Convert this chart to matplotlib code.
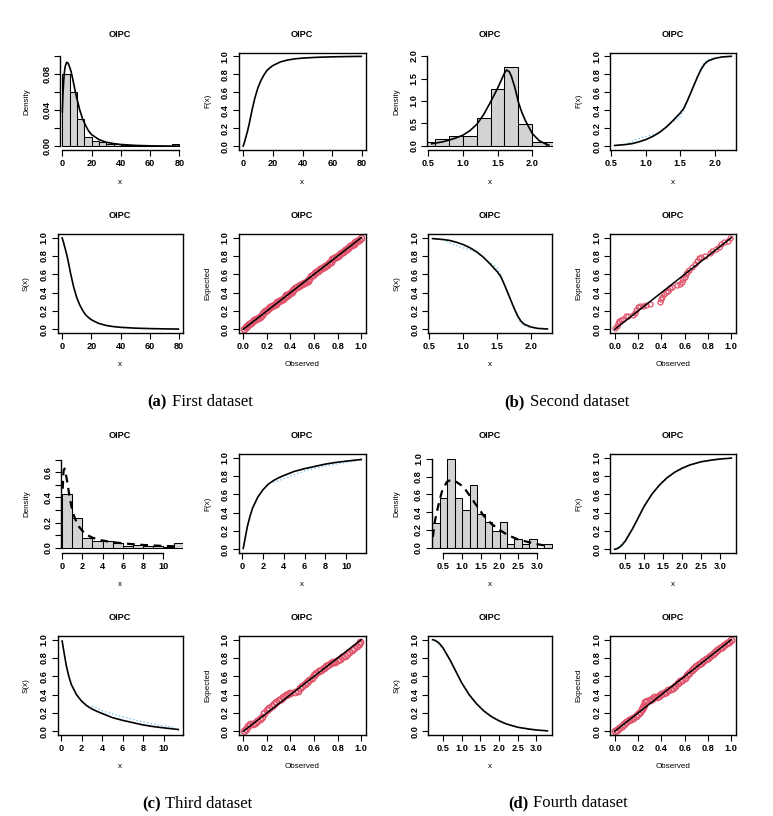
import matplotlib
matplotlib.use("Agg")
import matplotlib.pyplot as plt

# ======================= DATA =======================
# ---- Dataset 1 ----
h1_edges = [0, 5, 10, 15, 20, 25, 30, 35, 40, 45, 50, 55, 60, 65, 70, 75, 80]
h1_dens = [0.08, 0.06, 0.03, 0.0105, 0.006, 0.0045, 0.003, 0.002, 0.0015, 0.0015,
           0, 0, 0, 0, 0, 0.002]
d1_x = [0.1, 0.5, 1, 1.5, 2, 3, 4, 5, 6, 7, 8, 9, 10, 12, 14, 16, 18, 20, 25, 30,
        35, 40, 50, 60, 70, 79.5]
d1_pdf = [0.038, 0.058, 0.072, 0.082, 0.088, 0.093, 0.092, 0.088, 0.083, 0.076,
          0.068, 0.060, 0.053, 0.040, 0.030, 0.023, 0.017, 0.013, 0.0075, 0.0045,
          0.003, 0.002, 0.001, 0.0005, 0.0003, 0.0002]
c1_x = [0.1, 1, 2, 3, 4, 5, 6, 7, 8, 10, 12, 14, 16, 18, 20, 25, 30, 35, 40, 50,
        60, 70, 79.5]
c1_F = [0.003, 0.05, 0.11, 0.17, 0.24, 0.32, 0.40, 0.47, 0.54, 0.65, 0.73, 0.79,
        0.84, 0.87, 0.895, 0.935, 0.957, 0.97, 0.978, 0.987, 0.992, 0.995, 0.997]
c1_S = [0.997, 0.95, 0.89, 0.83, 0.76, 0.68, 0.60, 0.53, 0.46, 0.35, 0.27, 0.21,
        0.16, 0.13, 0.105, 0.065, 0.043, 0.03, 0.022, 0.013, 0.008, 0.005, 0.003]
pp1_obs = [0.005, 0.02, 0.035, 0.05, 0.065, 0.08, 0.095, 0.11, 0.125, 0.14,
           0.155, 0.17, 0.185, 0.2, 0.215, 0.23, 0.245, 0.26, 0.275, 0.29,
           0.305, 0.32, 0.335, 0.35, 0.365, 0.38, 0.395, 0.41, 0.425, 0.44,
           0.455, 0.47, 0.485, 0.5, 0.515, 0.53, 0.545, 0.56, 0.575, 0.59,
           0.605, 0.62, 0.635, 0.65, 0.665, 0.68, 0.695, 0.71, 0.725, 0.74,
           0.755, 0.77, 0.785, 0.8, 0.815, 0.83, 0.845, 0.86, 0.875, 0.89,
           0.905, 0.92, 0.935, 0.95, 0.965, 0.98, 0.995]
pp1_exp = [0.008, 0.022, 0.04, 0.055, 0.07, 0.087, 0.1, 0.112, 0.126, 0.14,
           0.158, 0.178, 0.198, 0.215, 0.23, 0.242, 0.253, 0.266, 0.28, 0.295,
           0.31, 0.322, 0.336, 0.355, 0.37, 0.38, 0.392, 0.407, 0.427, 0.45,
           0.464, 0.474, 0.484, 0.494, 0.502, 0.512, 0.527, 0.553, 0.582, 0.598,
           0.61, 0.624, 0.64, 0.655, 0.666, 0.676, 0.69, 0.705, 0.72, 0.74,
           0.764, 0.776, 0.787, 0.8, 0.815, 0.83, 0.845, 0.861, 0.876, 0.89,
           0.905, 0.92, 0.935, 0.95, 0.965, 0.98, 0.993]

# ---- Dataset 2 ----
h2_edges = [0.4, 0.6, 0.8, 1.0, 1.2, 1.4, 1.6, 1.8, 2.0, 2.2, 2.4]
h2_dens = [0.08, 0.15, 0.23, 0.23, 0.63, 1.27, 1.75, 0.48, 0.08, 0.08]
d2_x = [0.55, 0.7, 0.8, 0.9, 1.0, 1.1, 1.2, 1.3, 1.4, 1.5, 1.55, 1.6, 1.63, 1.67,
        1.7, 1.75, 1.8, 1.85, 1.9, 2.0, 2.1, 2.2, 2.24]
d2_pdf = [0.05, 0.09, 0.13, 0.18, 0.24, 0.34, 0.48, 0.7, 0.98, 1.28, 1.45, 1.62,
          1.69, 1.65, 1.55, 1.3, 0.98, 0.75, 0.57, 0.28, 0.12, 0.04, 0.02]
c2_x = [0.55, 0.7, 0.8, 0.9, 1.0, 1.1, 1.2, 1.3, 1.4, 1.5, 1.55, 1.6, 1.65, 1.7,
        1.75, 1.8, 1.85, 1.9, 2.0, 2.1, 2.24]
c2_F = [0.01, 0.02, 0.03, 0.05, 0.075, 0.11, 0.155, 0.215, 0.29, 0.37, 0.42, 0.5,
        0.59, 0.68, 0.77, 0.85, 0.91, 0.945, 0.975, 0.99, 0.998]
c2_S = [0.99, 0.98, 0.97, 0.95, 0.925, 0.89, 0.845, 0.785, 0.71, 0.63, 0.58, 0.5,
        0.41, 0.32, 0.23, 0.15, 0.09, 0.055, 0.025, 0.01, 0.004]
e2_x = [0.75, 0.85, 0.95, 1.05, 1.15, 1.25, 1.35, 1.45, 1.5, 1.55, 1.6, 1.65, 1.7,
        1.75, 1.8, 1.85, 1.9, 1.95, 2.0]
e2_F = [0.04, 0.07, 0.1, 0.12, 0.14, 0.19, 0.25, 0.3, 0.33, 0.4, 0.49, 0.58, 0.68,
        0.78, 0.87, 0.93, 0.96, 0.975, 0.985]
e2_S = [0.96, 0.93, 0.9, 0.88, 0.86, 0.81, 0.75, 0.7, 0.67, 0.6, 0.51, 0.42, 0.32,
        0.22, 0.13, 0.07, 0.04, 0.025, 0.015]
pp2_obs = [0.006, 0.017, 0.029, 0.04, 0.058, 0.075, 0.098, 0.115, 0.156, 0.173,
           0.184, 0.2, 0.213, 0.242, 0.271, 0.305, 0.386, 0.395, 0.406, 0.421,
           0.438, 0.458, 0.478, 0.49, 0.536, 0.559, 0.576, 0.588, 0.6, 0.611,
           0.622, 0.64, 0.663, 0.686, 0.703, 0.723, 0.741, 0.778, 0.818, 0.836,
           0.865, 0.893, 0.911, 0.939, 0.974, 0.991]
pp2_exp = [0.011, 0.04, 0.067, 0.086, 0.097, 0.116, 0.146, 0.149, 0.16, 0.183,
           0.21, 0.243, 0.254, 0.257, 0.265, 0.28, 0.302, 0.332, 0.358, 0.384,
           0.403, 0.422, 0.448, 0.463, 0.489, 0.496, 0.519, 0.545, 0.575, 0.6,
           0.63, 0.646, 0.683, 0.713, 0.743, 0.776, 0.787, 0.802, 0.836, 0.854,
           0.877, 0.899, 0.929, 0.948, 0.966, 0.993]

# ---- Dataset 3 ----
h3_edges = [0, 1, 2, 3, 4, 5, 6, 7, 8, 9, 10, 11, 12]
h3_dens = [0.427, 0.24, 0.08, 0.053, 0.05, 0.04, 0.016, 0.024, 0.011, 0.011,
           0.008, 0.037]
d3_x = [0.07, 0.15, 0.25, 0.35, 0.5, 0.7, 0.9, 1.1, 1.4, 1.7, 2.0, 2.5, 3.0, 3.5,
        4, 5, 6, 7, 8, 9, 10, 11.45]
d3_pdf = [0.47, 0.61, 0.63, 0.60, 0.53, 0.43, 0.34, 0.27, 0.21, 0.165, 0.135,
          0.10, 0.08, 0.067, 0.057, 0.044, 0.035, 0.028, 0.022, 0.018, 0.014, 0.011]
c3_x = [0.1, 0.3, 0.5, 0.75, 1.0, 1.5, 2.0, 2.5, 3.0, 3.5, 4, 5, 6, 7, 8, 9, 10,
        11.45]
c3_F = [0.01, 0.13, 0.25, 0.36, 0.45, 0.57, 0.65, 0.71, 0.75, 0.78, 0.805, 0.85,
        0.88, 0.905, 0.93, 0.948, 0.962, 0.98]
c3_S = [0.985, 0.85, 0.72, 0.6, 0.51, 0.4, 0.33, 0.28, 0.245, 0.218, 0.195, 0.15,
        0.12, 0.095, 0.07, 0.052, 0.038, 0.02]
e3_x = [3.0, 3.5, 4, 5, 6, 7, 8, 9, 10, 11]
e3_F = [0.73, 0.75, 0.77, 0.815, 0.855, 0.885, 0.91, 0.93, 0.95, 0.965]
e3_S = [0.275, 0.255, 0.225, 0.19, 0.16, 0.13, 0.1, 0.08, 0.06, 0.045]
pp3_obs = [0.005, 0.02, 0.04, 0.06, 0.08, 0.10, 0.12, 0.14, 0.16, 0.18,
           0.20, 0.22, 0.24, 0.26, 0.28, 0.30, 0.32, 0.34, 0.36, 0.38,
           0.40, 0.44, 0.46, 0.48, 0.50, 0.52, 0.54, 0.56, 0.58, 0.60,
           0.62, 0.64, 0.66, 0.68, 0.70, 0.72, 0.74, 0.76, 0.78, 0.80,
           0.82, 0.84, 0.86, 0.88, 0.90, 0.92, 0.94, 0.96, 0.98, 0.99]
pp3_exp = [0.008, 0.03, 0.058, 0.075, 0.084, 0.094, 0.11, 0.134, 0.16, 0.195,
           0.228, 0.255, 0.278, 0.3, 0.322, 0.34, 0.357, 0.375, 0.393, 0.408,
           0.416, 0.425, 0.44, 0.468, 0.495, 0.515, 0.535, 0.56, 0.585, 0.61,
           0.638, 0.657, 0.668, 0.688, 0.708, 0.727, 0.748, 0.755, 0.76, 0.773,
           0.79, 0.808, 0.827, 0.847, 0.868, 0.89, 0.91, 0.93, 0.955, 0.978]

# ---- Dataset 4 ----
h4_edges = [0.2, 0.4, 0.6, 0.8, 1.0, 1.2, 1.4, 1.6, 1.8, 2.0, 2.2, 2.4, 2.6, 2.8,
            3.0, 3.2, 3.4]
h4_dens = [0.28, 0.565, 1.0, 0.565, 0.43, 0.71, 0.38, 0.285, 0.19, 0.285, 0.045,
           0.095, 0.045, 0.095, 0.0, 0.045]
d4_x = [0.22, 0.28, 0.37, 0.46, 0.59, 0.72, 0.85, 1.03, 1.2, 1.38, 1.56, 1.78,
        2.0, 2.23, 2.49, 2.76, 3.02, 3.3]
d4_pdf = [0.12, 0.31, 0.48, 0.63, 0.74, 0.77, 0.74, 0.69, 0.59, 0.48, 0.37, 0.27,
          0.2, 0.14, 0.094, 0.064, 0.038, 0.019]
c4_x = [0.22, 0.3, 0.4, 0.5, 0.6, 0.7, 0.8, 0.9, 1.0, 1.2, 1.4, 1.6, 1.8, 2.0,
        2.2, 2.5, 2.8, 3.0, 3.3]
c4_F = [0.0, 0.01, 0.04, 0.09, 0.16, 0.23, 0.31, 0.39, 0.47, 0.6, 0.7, 0.78, 0.84,
        0.885, 0.92, 0.955, 0.975, 0.985, 0.995]
c4_S = [1.0, 0.99, 0.96, 0.91, 0.84, 0.77, 0.69, 0.61, 0.53, 0.4, 0.3, 0.22, 0.16,
        0.115, 0.08, 0.045, 0.025, 0.015, 0.005]
e4_x = [0.3, 0.5, 0.7, 0.9, 1.1, 1.3, 1.5, 1.8, 2.1, 2.5, 3.0]
e4_F = [0.015, 0.1, 0.24, 0.4, 0.54, 0.65, 0.74, 0.835, 0.9, 0.955, 0.985]
e4_S = [0.985, 0.9, 0.76, 0.6, 0.46, 0.35, 0.26, 0.165, 0.1, 0.045, 0.015]
pp4_obs = [0.005, 0.02, 0.04, 0.06, 0.08, 0.10, 0.12, 0.14, 0.16, 0.18,
           0.20, 0.22, 0.23, 0.24, 0.25, 0.26, 0.28, 0.30, 0.32, 0.34,
           0.36, 0.38, 0.40, 0.42, 0.44, 0.46, 0.48, 0.50, 0.52, 0.54,
           0.56, 0.58, 0.60, 0.62, 0.64, 0.66, 0.68, 0.70, 0.72, 0.74,
           0.76, 0.78, 0.80, 0.82, 0.84, 0.86, 0.88, 0.90, 0.92, 0.94,
           0.96, 0.98, 0.995]
pp4_exp = [0.008, 0.018, 0.035, 0.055, 0.075, 0.1, 0.125, 0.14, 0.15, 0.162,
           0.185, 0.215, 0.24, 0.265, 0.29, 0.315, 0.335, 0.346, 0.358, 0.37,
           0.38, 0.39, 0.405, 0.418, 0.43, 0.447, 0.463, 0.477, 0.495, 0.525,
           0.545, 0.565, 0.583, 0.612, 0.638, 0.665, 0.69, 0.713, 0.732, 0.75,
           0.768, 0.786, 0.804, 0.822, 0.84, 0.862, 0.884, 0.907, 0.925, 0.945,
           0.963, 0.98, 0.995]

pp_line = [0.0, 1.0]

# tick values / labels
x1_ticks = [0, 20, 40, 60, 80]
x1_labels = ["0", "20", "40", "60", "80"]
x2_ticks = [0.5, 1.0, 1.5, 2.0]
x2_labels = ["0.5", "1.0", "1.5", "2.0"]
x3_ticks = [0, 2, 4, 6, 8, 10]
x3_labels = ["0", "2", "4", "6", "8", "10"]
x4_ticks = [0.5, 1.0, 1.5, 2.0, 2.5, 3.0]
x4_labels = ["0.5", "1.0", "1.5", "2.0", "2.5", "3.0"]
u_ticks = [0.0, 0.2, 0.4, 0.6, 0.8, 1.0]
u_labels = ["0.0", "0.2", "0.4", "0.6", "0.8", "1.0"]
hy1_ticks = [0.0, 0.02, 0.04, 0.06, 0.08, 0.10]
hy1_labels = ["0.00", "", "0.04", "", "0.08", ""]
hy2_ticks = [0.0, 0.5, 1.0, 1.5, 2.0]
hy2_labels = ["0.0", "0.5", "1.0", "1.5", "2.0"]
hy3_ticks = [0.0, 0.1, 0.2, 0.3, 0.4, 0.5, 0.6, 0.7]
hy3_labels = ["0.0", "", "0.2", "", "0.4", "", "0.6", ""]
hy4_ticks = [0.0, 0.2, 0.4, 0.6, 0.8, 1.0]
hy4_labels = ["0.0", "0.2", "0.4", "0.6", "0.8", "1.0"]

captions = [("(a)", "First dataset"), ("(b)", "Second dataset"),
            ("(c)", "Third dataset"), ("(d)", "Fourth dataset")]

# ======================= LAYOUT / STYLE =======================
W, H = 773, 816
fig = plt.figure(figsize=(W / 100, H / 100), dpi=100)
fig.patch.set_facecolor("white")

SANS = "Liberation Sans"
SERIF = "Liberation Serif"
RED = "#DF536B"
BLUE = "#7CC7EE"
GREY = "#D3D3D3"

COLS = [(57.5, 183), (238.5, 366), (428, 552), (610, 736)]
ROWS = [(52.5, 150), (234, 333), (454, 553), (636, 735)]


def px_axes(l, t, r, b):
    return fig.add_axes([l / W, 1 - b / H, (r - l) / W, (b - t) / H])


def rlim(v):
    lo, hi = min(v), max(v)
    d = 0.04 * (hi - lo)
    return lo - d, hi + d


def fmt_ticks(ax, xt, xl, yt, yl):
    ax.set_xticks(xt)
    ax.set_xticklabels(xl)
    ax.set_yticks(yt)
    ax.set_yticklabels(yl)
    ax.tick_params(axis="both", direction="out", length=4, width=0.8,
                   labelsize=6.6, color="black")
    ax.tick_params(axis="x", pad=2.6)
    ax.tick_params(axis="y", pad=2.2)
    for t in ax.get_xticklabels() + ax.get_yticklabels():
        t.set_fontfamily(SANS)
        t.set_fontweight("bold")
    for t in ax.get_yticklabels():
        t.set_rotation(90)
        t.set_va("center")
    for s in ax.spines.values():
        s.set_linewidth(1.0)


def panel_text(col, row, xlab, ylab):
    l, r = COLS[col]
    t, b = ROWS[row]
    cx, cy = (l + r) / 2, (t + b) / 2
    fig.text(cx / W, 1 - (t - 18) / H, "OIPC", ha="center", va="center",
             fontsize=6.6, fontweight="bold", family=SANS)
    fig.text(cx / W, 1 - (b + 32) / H, xlab, ha="center", va="center",
             fontsize=5.8, family=SANS)
    fig.text((l - 31) / W, 1 - cy / H, ylab, ha="center", va="center",
             rotation=90, fontsize=5.8, family=SANS)


def hist_panel(col, row, axl, axr, xlim, ylim, edges, dens, cx, cy, ls,
               xt, xl, yt, yl):
    t, b = ROWS[row]
    ax = px_axes(axl, t, axr, b)
    widths = [edges[i + 1] - edges[i] for i in range(len(dens))]
    ax.bar(edges[:-1], dens, width=widths, align="edge", color=GREY,
           edgecolor="black", linewidth=0.75)
    if ls == "-":
        ax.plot(cx, cy, color="black", lw=1.2)
    else:
        ax.plot(cx, cy, color="black", lw=1.6, ls=(0, (3.5, 2.5)))
    ax.set_xlim(xlim)
    ax.set_ylim(ylim)
    fmt_ticks(ax, xt, xl, yt, yl)
    ax.spines["top"].set_visible(False)
    ax.spines["right"].set_visible(False)
    ax.spines["bottom"].set_bounds(xt[0], xt[-1])
    ax.spines["left"].set_bounds(yt[0], yt[-1])
    panel_text(col, row, "x", "Density")


def curve_panel(col, row, x, y, ex, ey, xt, xl, ylab):
    l, r = COLS[col]
    t, b = ROWS[row]
    ax = px_axes(l, t, r, b)
    if ex is not None:
        ax.plot(ex, ey, color=BLUE, ls=(0, (1, 1.6)), lw=1.0)
    ax.plot(x, y, color="black", lw=1.2)
    ax.set_xlim(rlim(x))
    ax.set_ylim(-0.04, 1.04)
    fmt_ticks(ax, xt, xl, u_ticks, u_labels)
    panel_text(col, row, "x", ylab)


def pp_panel(col, row, obs, exp, ms, mew):
    l, r = COLS[col]
    t, b = ROWS[row]
    ax = px_axes(l, t, r, b)
    ax.plot(obs, exp, "o", mfc="none", mec=RED, ms=ms, mew=mew)
    ax.plot(pp_line, pp_line, color="black", lw=1.1)
    ax.set_xlim(-0.04, 1.04)
    ax.set_ylim(-0.04, 1.04)
    fmt_ticks(ax, u_ticks, u_labels, u_ticks, u_labels)
    panel_text(col, row, "Observed", "Expected")


# ---- Dataset 1 (a) ----
hist_panel(0, 0, 60, 183, (-1.5, 82.4), (-0.0041, 0.1038), h1_edges, h1_dens,
           d1_x, d1_pdf, "-", x1_ticks, x1_labels, hy1_ticks, hy1_labels)
curve_panel(1, 0, c1_x, c1_F, None, None, x1_ticks, x1_labels, "F(x)")
curve_panel(0, 1, c1_x, c1_S, None, None, x1_ticks, x1_labels, "S(x)")
pp_panel(1, 1, pp1_obs, pp1_exp, 4.4, 1.2)

# ---- Dataset 2 (b) ----
hist_panel(2, 0, 427.3, 553.3, (0.486, 2.305), (-0.089, 2.078), h2_edges,
           h2_dens, d2_x, d2_pdf, "-", x2_ticks, x2_labels, hy2_ticks, hy2_labels)
curve_panel(3, 0, c2_x, c2_F, e2_x, e2_F, x2_ticks, x2_labels, "F(x)")
curve_panel(2, 1, c2_x, c2_S, e2_x, e2_S, x2_ticks, x2_labels, "S(x)")
pp_panel(3, 1, pp2_obs, pp2_exp, 3.6, 0.9)

# ---- Dataset 3 (c) ----
hist_panel(0, 2, 61.3, 182.7, (-0.07, 11.9), (-0.042, 0.746), h3_edges,
           h3_dens, d3_x, d3_pdf, "--", x3_ticks, x3_labels, hy3_ticks, hy3_labels)
curve_panel(1, 2, c3_x, c3_F, e3_x, e3_F, x3_ticks, x3_labels, "F(x)")
curve_panel(0, 3, c3_x, c3_S, e3_x, e3_S, x3_ticks, x3_labels, "S(x)")
pp_panel(1, 3, pp3_obs, pp3_exp, 4.4, 1.2)

# ---- Dataset 4 (d) ----
hist_panel(2, 2, 431.7, 552.7, (0.19, 3.42), (-0.06, 1.056), h4_edges,
           h4_dens, d4_x, d4_pdf, "--", x4_ticks, x4_labels, hy4_ticks, hy4_labels)
curve_panel(3, 2, c4_x, c4_F, e4_x, e4_F, x4_ticks, x4_labels, "F(x)")
curve_panel(2, 3, c4_x, c4_S, e4_x, e4_S, x4_ticks, x4_labels, "S(x)")
pp_panel(3, 3, pp4_obs, pp4_exp, 4.4, 1.2)

# ---- captions ----
cap_pos = [(166.7, 171.5, 402), (525.0, 529.5, 402), (160.7, 165.2, 804),
           (528.3, 532.8, 803)]
for (lab, txt), (xr, xl_, yy) in zip(captions, cap_pos):
    fig.text(xr / W, 1 - yy / H, lab, ha="right", va="center", family=SERIF,
             fontweight="bold", fontsize=12)
    fig.text(xl_ / W, 1 - yy / H, txt, ha="left", va="center", family=SERIF,
             fontsize=12)

fig.savefig("out.png", dpi=100, facecolor="white")
